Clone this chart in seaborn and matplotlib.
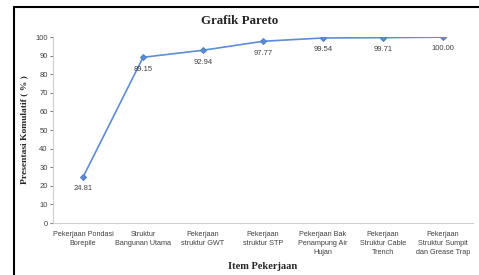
import matplotlib
matplotlib.use("Agg")
import matplotlib.pyplot as plt
import seaborn as sns
import pandas as pd
from matplotlib.lines import Line2D

items = ["Pekerjaan Pondasi\nBorepile", "Struktur\nBangunan Utama", "Pekerjaan\nstruktur GWT",
         "Pekerjaan\nstruktur STP", "Pekerjaan Bak\nPenampung Air\nHujan", "Pekerjaan\nStruktur Cable\nTrench",
         "Pekerjaan\nStruktur Sumpit\ndan Grease Trap"]
kumulatif = [24.81, 89.15, 92.94, 97.77, 99.54, 99.71, 100.00]
labels = ["24.81", "89.15", "92.94", "97.77", "99.54", "99.71", "100.00"]

df = pd.DataFrame({"pos": range(len(items)), "val": kumulatif})

sns.set_style("white")
plt.rcParams['font.family'] = ['Liberation Sans', 'DejaVu Sans']

fig = plt.figure(figsize=(4.79, 2.75), dpi=100)
ax = fig.add_axes([0.111, 0.189, 0.876, 0.676])

sns.lineplot(data=df, x="pos", y="val", ax=ax, color="#5B8ED6", linewidth=1.2,
             marker="D", markersize=3, markeredgecolor="#4A7FCB")

for i, (v, t) in enumerate(zip(kumulatif, labels)):
    ax.annotate(t, (i, v), xytext=(0, -8.5), textcoords="offset points",
                ha="center", va="center", fontsize=5.5, color="#404040")

ax.set_xlim(-0.5, len(items) - 0.5)
ax.set_ylim(0, 100)
ax.set_yticks(range(0, 101, 10))
ax.set_xticks(range(len(items)))
ax.set_xticklabels(items, fontsize=5.2, color="#404040", linespacing=1.4)
ax.tick_params(axis="y", labelsize=5.5, colors="#404040", length=2, width=0.5, left=True, pad=2)
ax.tick_params(axis="x", length=0, pad=6)
for s in ["top", "right"]:
    ax.spines[s].set_visible(False)
for s in ["left", "bottom"]:
    ax.spines[s].set_color("#D0D0D0")
    ax.spines[s].set_linewidth(0.8)

ax.set_xlabel("Item Pekerjaan", fontsize=7.6, fontweight="bold", family="Liberation Serif", labelpad=4)
ax.set_ylabel("Presentasi Komulatif ( % )", fontsize=6.8, fontweight="bold", family="Liberation Serif", labelpad=5)
fig.text(0.5, 0.925, "Grafik Pareto", ha="center", va="center", fontsize=9.4,
         fontweight="bold", family="Liberation Serif")

# frame of the original screenshot
fig.add_artist(Line2D([14/479, 1], [1 - 7/275, 1 - 7/275], color="black", linewidth=1.5, transform=fig.transFigure))
fig.add_artist(Line2D([14/479, 14/479], [0, 1 - 7/275], color="black", linewidth=1.5, transform=fig.transFigure))

fig.savefig("out.png", dpi=100)
